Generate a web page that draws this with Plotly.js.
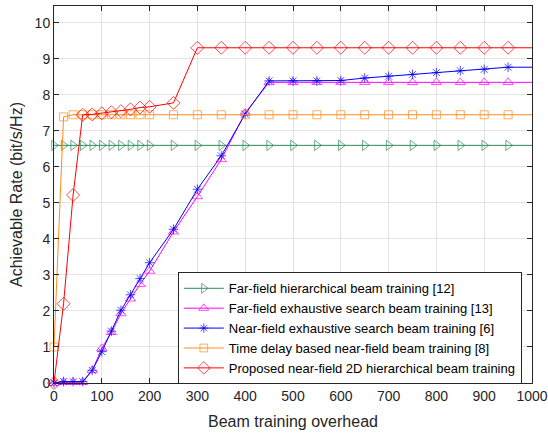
<!DOCTYPE html>
<html><head><meta charset="utf-8">
<script src="https://cdn.plot.ly/plotly-3.0.1.min.js"></script>
<style>html,body{margin:0;padding:0;background:#fff}#chart{width:548px;height:435px}</style>
</head><body><div id="chart"></div>
<script>
const overhead = [0,20,40,60,80,100,120,140,160,180,200,250,300,350,400,450,500,550,600,650,700,750,800,850,900,950,1000];
const farHier = [6.6,6.6,6.6,6.6,6.6,6.6,6.6,6.6,6.6,6.6,6.6,6.6,6.6,6.6,6.6,6.6,6.6,6.6,6.6,6.6,6.6,6.6,6.6,6.6,6.6,6.6,6.6];
const farExh = [0,0.02,0.02,0.02,0.35,0.96,1.41,1.93,2.34,2.74,3.11,4.2,5.18,6.21,7.5,8.35,8.35,8.35,8.35,8.35,8.35,8.35,8.35,8.35,8.35,8.35,8.35];
const nearExh = [0,0.04,0.04,0.04,0.35,0.87,1.44,2.02,2.45,2.9,3.34,4.27,5.38,6.31,7.47,8.39,8.39,8.39,8.4,8.47,8.52,8.57,8.62,8.67,8.71,8.77,8.77];
const timeDelay = [1.0,7.39,7.45,7.45,7.45,7.45,7.45,7.45,7.45,7.45,7.45,7.45,7.45,7.45,7.45,7.45,7.45,7.45,7.45,7.45,7.45,7.45,7.45,7.45,7.45,7.45,7.45];
const proposed = [0,2.2,5.22,7.45,7.46,7.49,7.52,7.55,7.6,7.65,7.67,7.78,9.31,9.31,9.31,9.31,9.31,9.31,9.31,9.31,9.31,9.31,9.31,9.31,9.31,9.31,9.31];
const names = [
 'Far-field hierarchical beam training [12]',
 'Far-field exhaustive search beam training [13]',
 'Near-field exhaustive search beam training [6]',
 'Time delay based near-field beam training [8]',
 'Proposed near-field 2D hierarchical beam training'
];
function sizes(s){ return overhead.map(v => v >= 1000 ? 0 : s); }
function tr(y, name, color, symbol, size){
  return {x: overhead, y: y, name: name, type:'scatter', mode:'lines+markers', cliponaxis:false,
    line:{color: color, width:1},
    marker:{symbol: symbol, size: sizes(size), color: color, line:{color: color, width:1}}};
}
const data = [
  tr(farHier, names[0], '#2E8B57', 'triangle-right-open', 9),
  tr(farExh, names[1], '#FF00FF', 'triangle-up-open', 9),
  tr(nearExh, names[2], '#0000FF', 'asterisk-open', 8),
  tr(timeDelay, names[3], '#FF8C1A', 'square-open', 8),
  tr(proposed, names[4], '#FF0000', 'diamond-open', 10)
];
const axisCommon = {showline:true, mirror:'ticks', linecolor:'#262626', linewidth:1,
  ticks:'inside', ticklen:5, tickcolor:'#262626', showgrid:true, gridcolor:'#E3E3E3', gridwidth:1,
  zeroline:false, tickfont:{family:'Liberation Sans, Arial, sans-serif', size:14, color:'#262626'}};
const layout = {
  width:548, height:435, margin:{l:54, r:16, t:6, b:52},
  paper_bgcolor:'#fff', plot_bgcolor:'#fff', showlegend:true,
  font:{family:'Liberation Sans, Arial, sans-serif', color:'#262626'},
  xaxis: Object.assign({}, axisCommon, {range:[0,1000], dtick:100, tick0:0,
    title:{text:'Beam training overhead', font:{size:16, color:'#262626'}, standoff:13}}),
  yaxis: Object.assign({}, axisCommon, {range:[0,10.47], dtick:1, tick0:0,
    title:{text:'Achievable Rate (bit/s/Hz)', font:{size:16, color:'#262626'}, standoff:8}}),
  legend:{x:0.259, y:0.145, xanchor:'left', yanchor:'middle', bgcolor:'#fff',
    bordercolor:'#262626', borderwidth:1, font:{size:13, color:'#000'},
    itemwidth:40, tracegroupgap:0}
};
Plotly.newPlot('chart', data, layout, {displayModeBar:false, staticPlot:true});
</script></body></html>
